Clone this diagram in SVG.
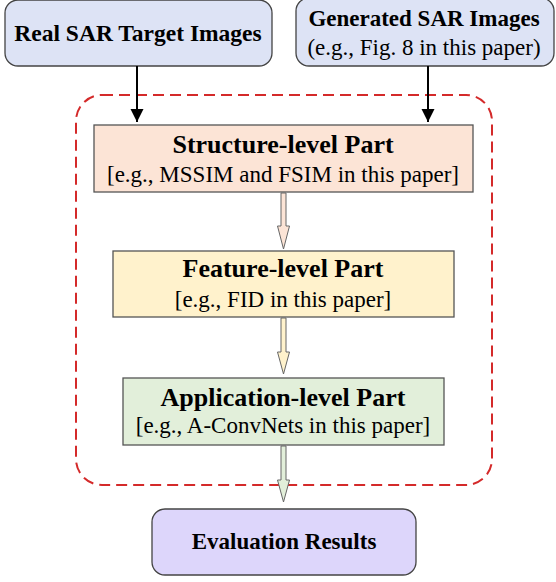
<svg xmlns="http://www.w3.org/2000/svg" width="556" height="582" viewBox="0 0 556 582">
<defs>
<style>
.b{font-family:"Liberation Serif","Times New Roman",serif;font-weight:bold;fill:#000;text-anchor:middle}
.r{font-family:"Liberation Serif","Times New Roman",serif;fill:#000;text-anchor:middle}
.box{stroke:#555;stroke-width:1.3}
.rbox{stroke:#444;stroke-width:1.3}
.ha{stroke:#666;stroke-width:1}
</style>
<marker id="ah" markerWidth="13" markerHeight="16" refX="13" refY="6.5" orient="auto" markerUnits="userSpaceOnUse" viewBox="0 0 13 13">
<path d="M0,0 L13,6.5 L0,13 Z" fill="#000"/>
</marker>
</defs>
<rect width="556" height="582" fill="#fff"/>
<g id="group-frame">
<rect x="76" y="95" width="416" height="390" rx="26" ry="26" fill="none" stroke="#d42a2a" stroke-width="2" stroke-dasharray="11,6"/>
</g>
<g id="real">
<rect class="rbox" x="5" y="0" width="267" height="66" rx="13" fill="#dde3f5"/>
<text class="b" x="138" y="41" font-size="23.5">Real SAR Target Images</text>
</g>
<g id="generated">
<rect class="rbox" x="296" y="-2" width="258" height="68" rx="13" fill="#dde3f5"/>
<text class="b" x="424" y="26" font-size="23">Generated SAR Images</text>
<text class="r" x="424" y="55" font-size="23">(e.g., Fig. 8 in this paper)</text>
</g>
<g id="structure">
<rect class="box" x="94" y="125" width="379" height="67" fill="#fce4d6"/>
<text class="b" x="283" y="153" font-size="26">Structure-level Part</text>
<text class="r" x="283" y="182" font-size="23">[e.g., MSSIM and FSIM in this paper]</text>
</g>
<g id="feature">
<rect class="box" x="113" y="251" width="341" height="66" fill="#fff2cc"/>
<text class="b" x="283" y="277" font-size="26">Feature-level Part</text>
<text class="r" x="283" y="307" font-size="23">[e.g., FID in this paper]</text>
</g>
<g id="application">
<rect class="box" x="123" y="378" width="321" height="67" fill="#e2efda"/>
<text class="b" x="283" y="406" font-size="26">Application-level Part</text>
<text class="r" x="283" y="433" font-size="23">[e.g., A-ConvNets in this paper]</text>
</g>
<g id="evaluation">
<rect class="rbox" x="152" y="509" width="264" height="66" rx="13" fill="#ddd6fb"/>
<text class="b" x="284" y="549" font-size="23">Evaluation Results</text>
</g>
<g id="connectors">
<line x1="137" y1="66" x2="137" y2="122" stroke="#000" stroke-width="2" marker-end="url(#ah)"/>
<line x1="428" y1="66" x2="428" y2="122" stroke="#000" stroke-width="2" marker-end="url(#ah)"/>
<path class="ha" d="M281,193 L286,193 L286,226 L289.5,226 L283.5,249 L277.5,226 L281,226 Z" fill="#fce4d6"/>
<path class="ha" d="M281,318 L286,318 L286,352 L289.5,352 L283.5,374 L277.5,352 L281,352 Z" fill="#fff2cc"/>
<path class="ha" d="M281,446 L286,446 L286,480 L289.5,480 L283.5,502 L277.5,480 L281,480 Z" fill="#e2efda"/>
</g>
</svg>
